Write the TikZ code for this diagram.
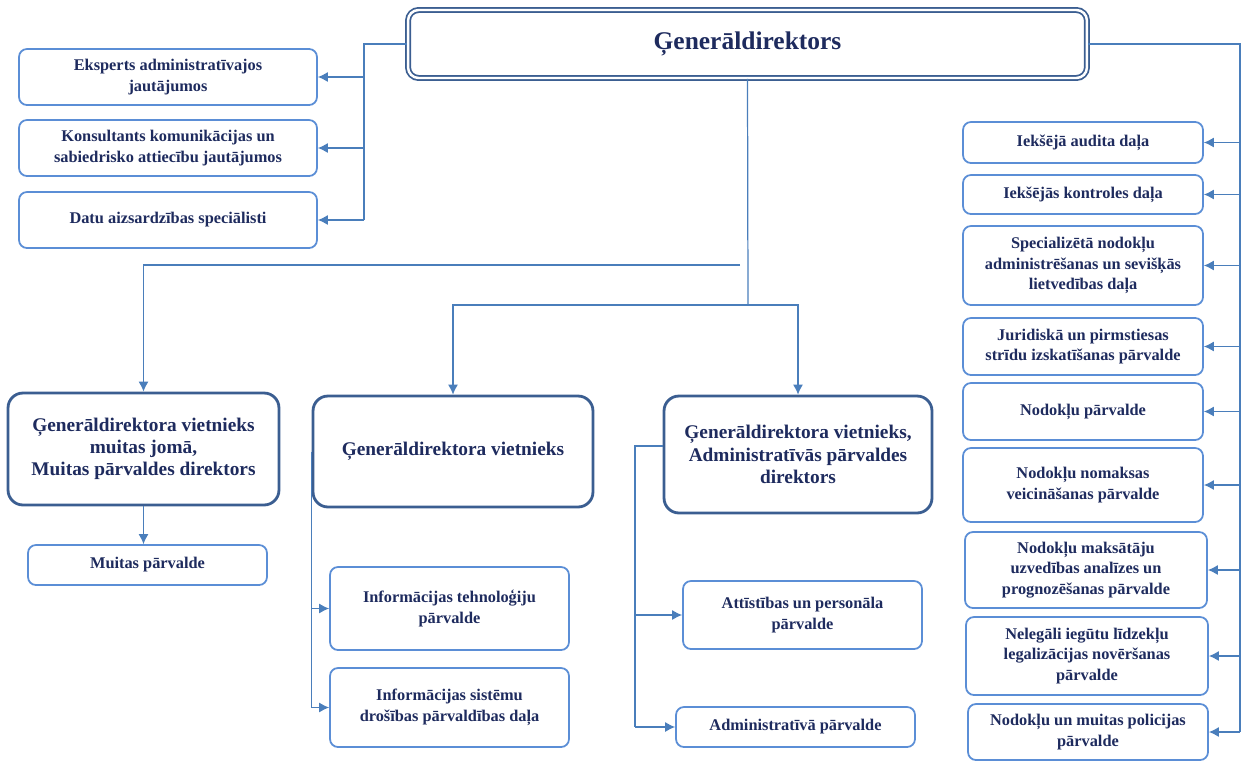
\documentclass[tikz,border=0pt]{standalone}
\usepackage{fontspec}
\setmainfont{Liberation Serif}
\usepackage{xcolor}
\usepackage{tikz}
\usetikzlibrary{arrows.meta,positioning,calc}
\definecolor{vidblue}{HTML}{4A7EBB}
\definecolor{ramblue}{HTML}{5B8ED6}
\definecolor{tumblue}{HTML}{3B5E91}
\definecolor{tekstblue}{HTML}{1E2B5E}

\begin{document}
\begin{tikzpicture}[
    x=0.02cm,y=-0.02cm,
    galva/.style  = {rectangle,rounded corners=6pt,draw=tumblue,line width=1pt,
                     double=white,double distance=1.4pt,fill=white,align=center,
                     text=tekstblue,font=\fontsize{14.5}{17}\selectfont\bfseries},
    vietn/.style  = {rectangle,rounded corners=8.5pt,draw=tumblue,line width=1.6pt,
                     fill=white,align=center,text=tekstblue,
                     font=\fontsize{11}{12.6}\selectfont\bfseries},
    vien/.style   = {rectangle,rounded corners=4.5pt,draw=ramblue,line width=1pt,
                     fill=white,align=center,text=tekstblue,
                     font=\fontsize{9.3}{11.6}\selectfont\bfseries},
    ln/.style     = {vidblue,line width=0.7pt},
    fl/.style     = {-{Latex[length=2mm,width=2mm]},vidblue,line width=0.7pt},
  ]
  \useasboundingbox (0,0) rectangle (1241,761);

  % ── Vadība ──────────────────────────────────────────────────────────────
  \node[galva,minimum width=13.58cm,minimum height=1.36cm] (gd) at (747.5,44) {Ģenerāldirektors};

  % ── Kreisā kolonna ──────────────────────────────────────────────────────
  \node[vien,minimum width=5.96cm,minimum height=1.12cm] (e1) at (168,77) {Eksperts administratīvajos\\jautājumos};
  \node[vien,minimum width=5.96cm,minimum height=1.12cm] (e2) at (168,148) {Konsultants komunikācijas un\\sabiedrisko attiecību jautājumos};
  \node[vien,minimum width=5.96cm,minimum height=1.12cm] (e3) at (168,220) {Datu aizsardzības speciālisti};

  % ── Labā kolonna ────────────────────────────────────────────────────────
  \node[vien,minimum width=4.8cm,minimum height=0.82cm] (r1) at (1083,142.5) {Iekšējā audita daļa};
  \node[vien,minimum width=4.8cm,minimum height=0.78cm] (r2) at (1083,194.5) {Iekšējās kontroles daļa};
  \node[vien,minimum width=4.8cm,minimum height=1.58cm] (r3) at (1083,265.5) {Specializētā nodokļu\\administrēšanas un sevišķās\\lietvedības daļa};
  \node[vien,minimum width=4.8cm,minimum height=1.14cm] (r4) at (1083,346.5) {Juridiskā un pirmstiesas\\strīdu izskatīšanas pārvalde};
  \node[vien,minimum width=4.8cm,minimum height=1.14cm] (r5) at (1083,411.5) {Nodokļu pārvalde};
  \node[vien,minimum width=4.8cm,minimum height=1.48cm] (r6) at (1083,485) {Nodokļu nomaksas\\veicināšanas pārvalde};
  \node[vien,minimum width=4.84cm,minimum height=1.52cm] (r7) at (1086,570) {Nodokļu maksātāju\\uzvedības analīzes un\\prognozēšanas pārvalde};
  \node[vien,minimum width=4.84cm,minimum height=1.56cm] (r8) at (1087,656) {Nelegāli iegūtu līdzekļu\\legalizācijas novēršanas\\pārvalde};
  \node[vien,minimum width=4.8cm,minimum height=1.12cm] (r9) at (1088,732) {Nodokļu un muitas policijas\\pārvalde};

  % ── Vietnieki ───────────────────────────────────────────────────────────
  \node[vietn,minimum width=5.42cm,minimum height=2.24cm] (d1) at (143.5,449) {Ģenerāldirektora vietnieks\\muitas jomā,\\Muitas pārvaldes direktors};
  \node[vietn,minimum width=5.6cm,minimum height=2.22cm] (d2) at (453,451.5) {Ģenerāldirektora vietnieks};
  \node[vietn,minimum width=5.36cm,minimum height=2.34cm] (d3) at (798,454.5) {Ģenerāldirektora vietnieks,\\Administratīvās pārvaldes\\direktors};

  \node[vien,minimum width=4.78cm,minimum height=0.8cm] (m1) at (147.5,565) {Muitas pārvalde};
  \node[vien,minimum width=4.78cm,minimum height=1.66cm] (i1) at (449.5,608.5) {Informācijas tehnoloģiju\\pārvalde};
  \node[vien,minimum width=4.78cm,minimum height=1.58cm] (i2) at (449.5,707.5) {Informācijas sistēmu\\drošības pārvaldības daļa};
  \node[vien,minimum width=4.78cm,minimum height=1.36cm] (a1) at (802.5,615) {Attīstības un personāla\\pārvalde};
  \node[vien,minimum width=4.78cm,minimum height=0.8cm] (a2) at (795.5,727) {Administratīvā pārvalde};

  % ── Savienojumi ─────────────────────────────────────────────────────────
  \coordinate (kL) at (364,44);
  \coordinate (kR) at (1240,44);
  \coordinate (mS) at (748,305);
  \coordinate (mK) at (740,265);
  \coordinate (aK) at (635,446);

  \draw[ln] (gd.west) -- (kL) -- (kL |- e3.east);
  \foreach \n in {e1,e2,e3} \draw[fl] (kL |- \n.east) -- (\n.east);

  \draw[ln] (gd.east) -- (kR) -- (kR |- r9.east);
  \foreach \n in {r1,r2,r3,r4,r5,r6,r7,r8,r9} \draw[fl] (kR |- \n.east) -- (\n.east);

  \draw[ln] (gd.south) -- (mS);
  \draw[fl] (mS) -| (d2.north);
  \draw[fl] (mS) -| (d3.north);
  \draw[fl] (mK) -| (d1.north);

  \draw[fl] (d1.south) -- (d1.south |- m1.north);

  \draw[ln] (d2.west) -- (d2.west |- i2.west);
  \foreach \n in {i1,i2} \draw[fl] (d2.west |- \n.west) -- (\n.west);

  \draw[ln] (aK -| d3.west) -- (aK) -- (aK |- a2.west);
  \foreach \n in {a1,a2} \draw[fl] (aK |- \n.west) -- (\n.west);

\end{tikzpicture}
\end{document}
